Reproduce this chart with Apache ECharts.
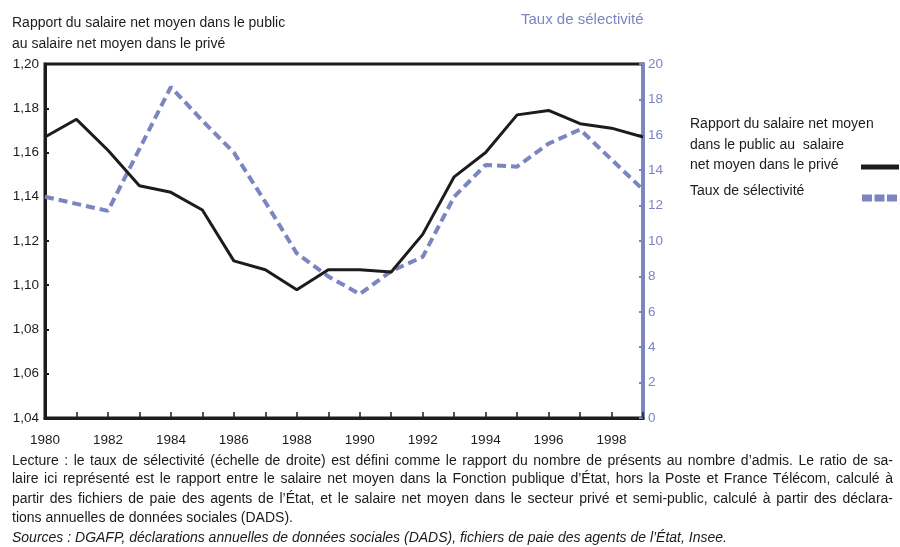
<!DOCTYPE html>
<html>
<head>
<meta charset="utf-8">
<script src="https://cdn.jsdelivr.net/npm/echarts@6/dist/echarts.min.js"></script>
<style>
  html, body { margin: 0; padding: 0; background: #fff; }
  #wrap { position: relative; width: 900px; height: 547px; overflow: hidden; }
  #chart { position: absolute; left: 0; top: 0; width: 900px; height: 547px; }
  .note {
    position: absolute; left: 12px; width: 881px;
    font-family: 'Liberation Sans Narrow', 'Liberation Sans', Arial, sans-serif;
    font-size: 14px; color: #1a1a1a; white-space: nowrap; line-height: 16px;
  }
  .note.just { text-align: justify; text-align-last: justify; white-space: normal; }
  .note.src { font-style: italic; }
</style>
</head>
<body>
<div id="wrap">
  <div id="chart"></div>
  <div class="note just" style="top:452px">Lecture : le taux de sélectivité (échelle de droite) est défini comme le rapport du nombre de présents au nombre d’admis. Le ratio de sa-</div>
  <div class="note just" style="top:470px">laire ici représenté est le rapport entre le salaire net moyen dans la Fonction publique d’État, hors la Poste et France Télécom, calculé à</div>
  <div class="note just" style="top:490px">partir des fichiers de paie des agents de l’État, et le salaire net moyen dans le secteur privé et semi-public, calculé à partir des déclara-</div>
  <div class="note" style="top:509px">tions annuelles de données sociales (DADS).</div>
  <div class="note src" style="top:529px">Sources : DGAFP, déclarations annuelles de données sociales (DADS), fichiers de paie des agents de l’État, Insee.</div>
</div>
<script>
// années
const years = ['1980', '1981', '1982', '1983', '1984', '1985', '1986', '1987', '1988', '1989',
  '1990', '1991', '1992', '1993', '1994', '1995', '1996', '1997', '1998', '1999'];

// rapport salaire public / privé (échelle de gauche)
const ratioValues = [1.167, 1.175, 1.161, 1.145, 1.142, 1.134, 1.111, 1.107, 1.098, 1.107,
  1.107, 1.106, 1.123, 1.149, 1.160, 1.177, 1.179, 1.173, 1.171, 1.167];

// taux de sélectivité (échelle de droite)
const selectivityValues = [12.5, 12.1, 11.7, 15.2, 18.7, 16.8, 15.0, 12.2, 9.3, 8.0,
  7.0, 8.3, 9.1, 12.5, 14.3, 14.2, 15.5, 16.3, 14.6, 12.9];

const ratioName = 'Rapport du salaire net moyen dans le public au salaire net moyen dans le privé';
const selectivityName = 'Taux de sélectivité';

const FONT = "'Liberation Sans Narrow', 'Liberation Sans', Arial, sans-serif";
const BLACK = '#1c1c1c';
const BLUE = '#7b85c0';

const chart = echarts.init(document.getElementById('chart'));

const option = {
  animation: false,
  textStyle: { fontFamily: FONT },
  grid: {
    left: 45, right: 257, top: 64, bottom: 129,
    show: true, borderColor: BLACK, borderWidth: 3, backgroundColor: 'transparent'
  },
  xAxis: {
    type: 'category',
    data: years,
    boundaryGap: false,
    axisLine: { lineStyle: { color: BLACK, width: 3 } },
    axisTick: { inside: true, length: 6, interval: 0, lineStyle: { color: BLACK, width: 1.5 } },
    axisLabel: { interval: 1, color: BLACK, fontSize: 13.5, margin: 15, fontFamily: FONT }
  },
  yAxis: [
    {
      type: 'value',
      min: 1.04, max: 1.20, interval: 0.02,
      splitLine: { show: false },
      axisLine: { show: true, lineStyle: { color: BLACK, width: 3 } },
      axisTick: { show: true, inside: true, length: 4, lineStyle: { color: BLACK, width: 2 } },
      axisLabel: {
        color: BLACK, fontSize: 13.5, margin: 6, fontFamily: FONT,
        formatter: v => v.toFixed(2).replace('.', ',')
      }
    },
    {
      type: 'value',
      min: 0, max: 20, interval: 2,
      position: 'right',
      splitLine: { show: false },
      axisLine: { show: true, lineStyle: { color: BLUE, width: 3 } },
      axisTick: { show: true, inside: true, length: 4, lineStyle: { color: BLUE, width: 2 } },
      axisLabel: { color: BLUE, fontSize: 13.5, margin: 5, fontFamily: FONT }
    }
  ],
  series: [
    {
      name: ratioName,
      type: 'line',
      yAxisIndex: 0,
      data: ratioValues,
      symbol: 'none',
      z: 3,
      lineStyle: { color: BLACK, width: 3 }
    },
    {
      name: selectivityName,
      type: 'line',
      yAxisIndex: 1,
      data: selectivityValues,
      symbol: 'none',
      z: 2,
      lineStyle: { color: BLUE, width: 4, type: [9, 5] }
    }
  ],
  graphic: [
    {
      type: 'text', left: 12, top: 13,
      style: {
        text: 'Rapport du salaire net moyen dans le public\nau salaire net moyen dans le privé',
        font: '14px ' + FONT, fill: BLACK, lineHeight: 21
      }
    },
    {
      type: 'text', left: 521, top: 12,
      style: { text: selectivityName, font: '15px ' + FONT, fill: BLUE }
    },
    // légende
    {
      type: 'text', left: 690, top: 114,
      style: {
        text: 'Rapport du salaire net moyen\ndans le public au  salaire\nnet moyen dans le privé',
        font: '14px ' + FONT, fill: BLACK, lineHeight: 20.5
      }
    },
    {
      type: 'line', shape: { x1: 861, y1: 167, x2: 899, y2: 167 },
      style: { stroke: BLACK, lineWidth: 5 }
    },
    {
      type: 'text', left: 690, top: 184,
      style: { text: selectivityName, font: '14px ' + FONT, fill: BLACK }
    },
    {
      type: 'line', shape: { x1: 862, y1: 198, x2: 898, y2: 198 },
      style: { stroke: BLUE, lineWidth: 7, lineDash: [10, 2.5] }
    }
  ]
};

chart.setOption(option);
</script>
</body>
</html>
